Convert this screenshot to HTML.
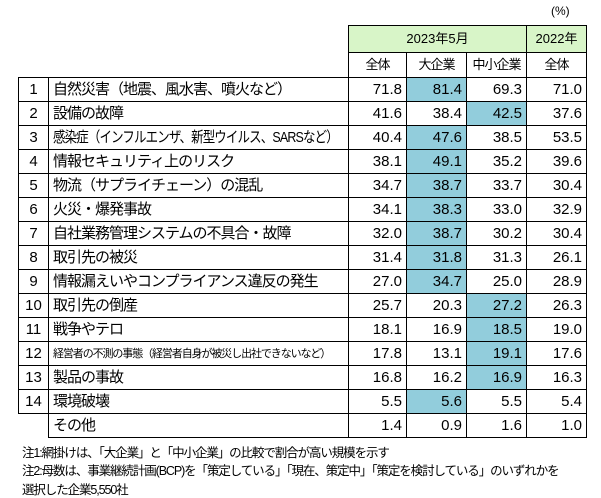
<!DOCTYPE html>
<html><head><meta charset="utf-8"><style>
body{margin:0;width:601px;height:498px;background:#fff;font-family:"Liberation Sans","Noto Sans CJK JP",sans-serif;color:#000;position:relative;overflow:hidden}
.a{position:absolute;box-sizing:border-box}
table{position:absolute;left:18px;top:25px;border-collapse:collapse;font-size:15px;table-layout:fixed;width:568px}
td{border:1px solid #000;height:24px;padding:0 3px;box-sizing:border-box;line-height:22px;white-space:nowrap;overflow:hidden}
td.l{letter-spacing:-1px;padding-left:4px}
td.n{text-align:right;padding-right:4px}
td.c{text-align:center}
td.h{background:#92cddc}
td.g{background:#d8f5c8;text-align:center;font-size:13px;height:27px}
td.s{text-align:center;font-size:13px;height:25px;letter-spacing:-1px;padding:0}
td.x{border:none}
.sq{display:inline-block;transform-origin:left center}
.note{position:absolute;left:22px;font-size:12.5px;white-space:nowrap;letter-spacing:-1.1px}
</style></head><body>
<div class="a" style="left:551px;top:4px;font-size:12px">(%)</div>
<table>
<colgroup><col style="width:30px"><col style="width:300px"><col style="width:58px"><col style="width:60px"><col style="width:60px"><col style="width:60px"></colgroup>
<tr><td class="x"></td><td class="x" style="border-right:1px solid #000"></td><td class="g" colspan="3">2023年5月</td><td class="g">2022年</td></tr>
<tr><td class="x"></td><td class="x" style="border-right:1px solid #000"></td><td class="s">全体</td><td class="s">大企業</td><td class="s">中小企業</td><td class="s">全体</td></tr>
<tr><td class="c">1</td><td class="l">自然災害（地震、風水害、噴火など）</td><td class="n">71.8</td><td class="n h">81.4</td><td class="n">69.3</td><td class="n">71.0</td></tr>
<tr><td class="c">2</td><td class="l">設備の故障</td><td class="n">41.6</td><td class="n">38.4</td><td class="n h">42.5</td><td class="n">37.6</td></tr>
<tr><td class="c">3</td><td class="l"><span class="sq" style="transform:scaleX(0.83)">感染症（インフルエンザ、新型ウイルス、SARSなど）</span></td><td class="n">40.4</td><td class="n h">47.6</td><td class="n">38.5</td><td class="n">53.5</td></tr>
<tr><td class="c">4</td><td class="l">情報セキュリティ上のリスク</td><td class="n">38.1</td><td class="n h">49.1</td><td class="n">35.2</td><td class="n">39.6</td></tr>
<tr><td class="c">5</td><td class="l">物流（サプライチェーン）の混乱</td><td class="n">34.7</td><td class="n h">38.7</td><td class="n">33.7</td><td class="n">30.4</td></tr>
<tr><td class="c">6</td><td class="l">火災・爆発事故</td><td class="n">34.1</td><td class="n h">38.3</td><td class="n">33.0</td><td class="n">32.9</td></tr>
<tr><td class="c">7</td><td class="l">自社業務管理システムの不具合・故障</td><td class="n">32.0</td><td class="n h">38.7</td><td class="n">30.2</td><td class="n">30.4</td></tr>
<tr><td class="c">8</td><td class="l">取引先の被災</td><td class="n">31.4</td><td class="n h">31.8</td><td class="n">31.3</td><td class="n">26.1</td></tr>
<tr><td class="c">9</td><td class="l">情報漏えいやコンプライアンス違反の発生</td><td class="n">27.0</td><td class="n h">34.7</td><td class="n">25.0</td><td class="n">28.9</td></tr>
<tr><td class="c">10</td><td class="l">取引先の倒産</td><td class="n">25.7</td><td class="n">20.3</td><td class="n h">27.2</td><td class="n">26.3</td></tr>
<tr><td class="c">11</td><td class="l">戦争やテロ</td><td class="n">18.1</td><td class="n">16.9</td><td class="n h">18.5</td><td class="n">19.0</td></tr>
<tr><td class="c">12</td><td class="l" style="font-size:11px;letter-spacing:-1.1px">経営者の不測の事態（経営者自身が被災し出社できないなど）</td><td class="n">17.8</td><td class="n">13.1</td><td class="n h">19.1</td><td class="n">17.6</td></tr>
<tr><td class="c">13</td><td class="l">製品の事故</td><td class="n">16.8</td><td class="n">16.2</td><td class="n h">16.9</td><td class="n">16.3</td></tr>
<tr><td class="c">14</td><td class="l">環境破壊</td><td class="n">5.5</td><td class="n h">5.6</td><td class="n">5.5</td><td class="n">5.4</td></tr>
<tr><td class="x" style="border-top:1px solid #000"></td><td class="l">その他</td><td class="n">1.4</td><td class="n">0.9</td><td class="n">1.6</td><td class="n">1.0</td></tr>
</table>
<div class="note" style="top:442px">注1:網掛けは、「大企業」と「中小企業」の比較で割合が高い規模を示す</div>
<div class="note" style="top:460px">注2:母数は、事業継続計画(BCP)を「策定している」「現在、策定中」「策定を検討している」のいずれかを</div>
<div class="note" style="top:479px">選択した企業5,550社</div>
</body></html>
